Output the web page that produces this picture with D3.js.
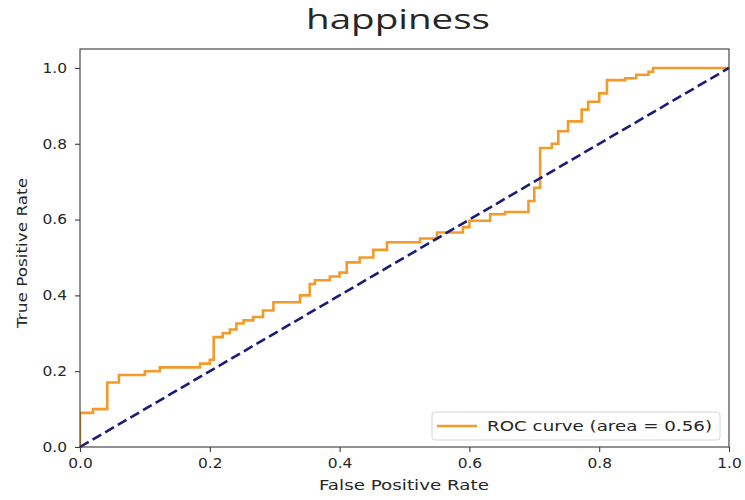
<!DOCTYPE html>
<html>
<head>
<meta charset="utf-8">
<script src="https://cdn.jsdelivr.net/npm/d3@7"></script>
<style>
  html, body { margin: 0; padding: 0; background: #fff; }
  svg { display: block; }
  text { font-family: "DejaVu Sans", sans-serif; fill: #262626; }
</style>
</head>
<body>
<svg id="chart" width="745" height="500"></svg>
<script>
// ROC curve points (false positive rate, true positive rate)
const fpr = [0, 0, 0.02, 0.02, 0.042, 0.042, 0.06, 0.06, 0.10, 0.10, 0.123, 0.123, 0.185, 0.185,
  0.20, 0.20, 0.206, 0.206, 0.22, 0.22, 0.231, 0.231, 0.241, 0.241, 0.252, 0.252, 0.267, 0.267,
  0.282, 0.282, 0.298, 0.298, 0.339, 0.339, 0.354, 0.354, 0.362, 0.362, 0.385, 0.385, 0.40, 0.40,
  0.411, 0.411, 0.431, 0.431, 0.452, 0.452, 0.473, 0.473, 0.524, 0.524, 0.55, 0.55, 0.59, 0.59,
  0.60, 0.60, 0.632, 0.632, 0.655, 0.655, 0.691, 0.691, 0.70, 0.70, 0.709, 0.709, 0.727, 0.727,
  0.737, 0.737, 0.752, 0.752, 0.773, 0.773, 0.783, 0.783, 0.80, 0.80, 0.812, 0.812, 0.84, 0.84,
  0.857, 0.857, 0.876, 0.876, 0.883, 0.883, 1.0];
const tpr = [0, 0.09, 0.09, 0.10, 0.10, 0.17, 0.17, 0.19, 0.19, 0.20, 0.20, 0.21, 0.21, 0.22,
  0.22, 0.23, 0.23, 0.29, 0.29, 0.30, 0.30, 0.31, 0.31, 0.326, 0.326, 0.334, 0.334, 0.343,
  0.343, 0.36, 0.36, 0.382, 0.382, 0.40, 0.40, 0.43, 0.43, 0.44, 0.44, 0.45, 0.45, 0.46,
  0.46, 0.487, 0.487, 0.50, 0.50, 0.52, 0.52, 0.54, 0.54, 0.55, 0.55, 0.566, 0.566, 0.58,
  0.58, 0.597, 0.597, 0.614, 0.614, 0.62, 0.62, 0.649, 0.649, 0.684, 0.684, 0.789, 0.789, 0.80,
  0.80, 0.833, 0.833, 0.859, 0.859, 0.89, 0.89, 0.911, 0.911, 0.933, 0.933, 0.968, 0.968, 0.973,
  0.973, 0.982, 0.982, 0.99, 0.99, 1.0, 1.0];
const chanceLine = [[0, 0], [1, 1]];
const rocArea = 0.56;
const xTicks = [0.0, 0.2, 0.4, 0.6, 0.8, 1.0];
const yTicks = [0.0, 0.2, 0.4, 0.6, 0.8, 1.0];
const titleText = "happiness";
const xLabel = "False Positive Rate";
const yLabel = "True Positive Rate";

const svg = d3.select("#chart");
const plot = { left: 80, right: 729, top: 49, bottom: 447 };

const x = d3.scaleLinear().domain([0, 1]).range([plot.left, plot.right]);
const y = d3.scaleLinear().domain([0, 1.05]).range([plot.bottom, plot.top]);

const stretch = 1.117;   // horizontal text stretch
const fmt = d3.format(".1f");

// clip so lines stay inside the axes
svg.append("clipPath").attr("id", "clip")
  .append("rect")
  .attr("x", plot.left).attr("y", plot.top)
  .attr("width", plot.right - plot.left).attr("height", plot.bottom - plot.top);

const rocPoints = fpr.map((f, i) => [f, tpr[i]]);
const line = d3.line().x(d => x(d[0])).y(d => y(d[1]));

svg.append("path")
  .datum(rocPoints)
  .attr("clip-path", "url(#clip)")
  .attr("fill", "none")
  .attr("stroke", "#f39a2c")
  .attr("stroke-width", 2.6)
  .attr("stroke-linejoin", "miter")
  .attr("d", line);

svg.append("path")
  .datum(chanceLine)
  .attr("fill", "none")
  .attr("stroke", "#1c1c78")
  .attr("stroke-width", 2.6)
  .attr("stroke-dasharray", "10,4.6")
  .attr("d", line);

// frame
svg.append("rect")
  .attr("x", plot.left).attr("y", plot.top)
  .attr("width", plot.right - plot.left).attr("height", plot.bottom - plot.top)
  .attr("fill", "none").attr("stroke", "#3a3a3a").attr("stroke-width", 1.1);

// axes
const xAxis = svg.append("g")
  .attr("transform", `translate(0,${plot.bottom})`)
  .call(d3.axisBottom(x).tickValues(xTicks).tickFormat(fmt).tickSize(5).tickPadding(4));
const yAxis = svg.append("g")
  .attr("transform", `translate(${plot.left},0)`)
  .call(d3.axisLeft(y).tickValues(yTicks).tickFormat(fmt).tickSize(5).tickPadding(4));

[xAxis, yAxis].forEach(g => {
  g.select(".domain").remove();
  g.selectAll(".tick line").attr("stroke", "#3a3a3a").attr("stroke-width", 1.1);
  g.selectAll(".tick text")
    .attr("fill", "#262626")
    .style("font-family", "DejaVu Sans, sans-serif")
    .style("font-size", "13.8px");
});
xAxis.selectAll(".tick text").attr("dy", "0.9em").attr("transform", `scale(${stretch},1)`);
yAxis.selectAll(".tick text").attr("x", -13 / stretch).attr("transform", `scale(${stretch},1)`);

// title
svg.append("text")
  .attr("x", 398).attr("y", 29)
  .attr("text-anchor", "middle")
  .style("font-family", "Open Sans, sans-serif")
  .style("font-size", "28px")
  .attr("fill", "#111")
  .attr("textLength", 184).attr("lengthAdjust", "spacingAndGlyphs")
  .text(titleText);

// axis labels
svg.append("text")
  .attr("x", 404).attr("y", 490)
  .attr("text-anchor", "middle")
  .style("font-size", "14.5px")
  .attr("textLength", 170).attr("lengthAdjust", "spacingAndGlyphs")
  .text(xLabel);

svg.append("text")
  .attr("transform", "translate(27,253) rotate(-90)")
  .attr("text-anchor", "middle")
  .style("font-size", "14.5px")
  .attr("textLength", 150).attr("lengthAdjust", "spacingAndGlyphs")
  .text(yLabel);

// legend
const legend = svg.append("g");
legend.append("rect")
  .attr("x", 432).attr("y", 412).attr("width", 288).attr("height", 28)
  .attr("rx", 3)
  .attr("fill", "#fff").attr("fill-opacity", 0.8)
  .attr("stroke", "#d6d6d6").attr("stroke-width", 1);
legend.append("line")
  .attr("x1", 437).attr("x2", 477).attr("y1", 426).attr("y2", 426)
  .attr("stroke", "#f39a2c").attr("stroke-width", 2.6);
legend.append("text")
  .attr("x", 487).attr("y", 431)
  .style("font-size", "14px")
  .attr("textLength", 225).attr("lengthAdjust", "spacingAndGlyphs")
  .text(`ROC curve (area = ${rocArea.toFixed(2)})`);
</script>
</body>
</html>
